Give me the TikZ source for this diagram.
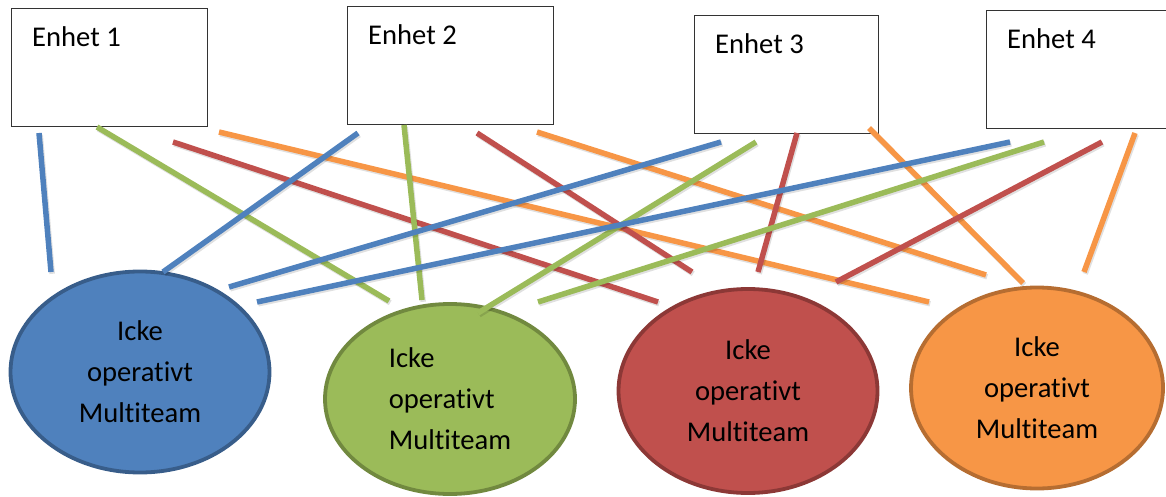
\documentclass[tikz,border=0pt]{standalone}
\usepackage{fontspec}
\setmainfont{Carlito}[Ligatures=NoCommon]
\usepackage{tikz}
\usetikzlibrary{shapes.geometric}

\definecolor{teamblue}{HTML}{4F81BD}
\definecolor{teambluedark}{HTML}{385D8A}
\definecolor{teamgreen}{HTML}{9BBB59}
\definecolor{teamgreendark}{HTML}{71893F}
\definecolor{teamred}{HTML}{C0504D}
\definecolor{teamreddark}{HTML}{8C3836}
\definecolor{teamorange}{HTML}{F79646}
\definecolor{teamorangedark}{HTML}{B66D31}

\newcommand{\bigtext}{\fontsize{28.6}{41}\selectfont}

\begin{document}
\begin{tikzpicture}[x=1pt,y=-1pt,
    enhet/.style={draw=black!80,line width=1.2pt,anchor=north west,
                  minimum height=118pt,inner sep=0pt},
    rubrik/.style={anchor=base west,inner sep=0pt,xshift=21pt,yshift=-39pt,font=\bigtext},
    team/.style={ellipse,line width=3.8pt,inner sep=0pt,align=center,font=\bigtext},
    link/.style={line width=5.5pt,
                 preaction={draw=black,opacity=0.12,line width=5.5pt,
                            transform canvas={shift={(1.2pt,-1.8pt)}}}}]

\useasboundingbox (0,0) rectangle (1166,497);

% enheter
\node[enhet, minimum width=196pt, label={[rubrik]north west:Enhet 1}] (E1) at (11,8) {};
\node[enhet, minimum width=206pt, label={[rubrik]north west:Enhet 2}] (E2) at (347,6) {};
\node[enhet, minimum width=184pt, label={[rubrik]north west:Enhet 3}] (E3) at (694,15) {};
\node[enhet, minimum width=200pt, label={[rubrik]north west:Enhet 4}] (E4) at (986,10) {};

% multiteam
\node[team, fill=teamblue, draw=teambluedark, minimum width=259pt, minimum height=201pt]
    (T1) at (140,372) {Icke\\operativt\\Multiteam};
\node[team, fill=teamgreen, draw=teamgreendark, minimum width=250pt, minimum height=190pt, align=left]
    (T2) at (450,399) {Icke\\operativt\\Multiteam};
\node[team, fill=teamred, draw=teamreddark, minimum width=259pt, minimum height=204pt]
    (T3) at (748,391) {Icke\\operativt\\Multiteam};
\node[team, fill=teamorange, draw=teamorangedark, minimum width=252pt, minimum height=201pt]
    (T4) at (1037,388) {Icke\\operativt\\Multiteam};

% line ends
\coordinate (b1) at (39,133);   \coordinate (b1e) at (51,272);
\coordinate (b2) at (358,133);  \coordinate (b2e) at (163,272);
\coordinate (b3) at (721,142);  \coordinate (b3e) at (229,287);
\coordinate (b4) at (1010,142); \coordinate (b4e) at (257,302);
\coordinate (g1) at (97,127);   \coordinate (g1e) at (389,301);
\coordinate (g2) at (404,125);  \coordinate (g2e) at (422,300);
\coordinate (g3) at (756,142);  \coordinate (g3e) at (478,313);
\coordinate (g4) at (1044,142); \coordinate (g4e) at (538,302);
\coordinate (r1) at (173,142);  \coordinate (r1e) at (658,302);
\coordinate (r2) at (477,133);  \coordinate (r2e) at (692,272);
\coordinate (r3) at (797,133);  \coordinate (r3e) at (758,272);
\coordinate (r4) at (1102,142); \coordinate (r4e) at (836,282);
\coordinate (o1) at (219,132);  \coordinate (o1e) at (929,302);
\coordinate (o2) at (537,132);  \coordinate (o2e) at (986,275);
\coordinate (o3) at (869,128);  \coordinate (o3e) at (1023,283);
\coordinate (o4) at (1135,133); \coordinate (o4e) at (1084,272);

\path (o1) edge[link, teamorange] (o1e)
      (o2) edge[link, teamorange] (o2e)
      (o3) edge[link, teamorange] (o3e)
      (o4) edge[link, teamorange] (o4e);

\path (r1) edge[link, teamred] (r1e)
      (r2) edge[link, teamred] (r2e)
      (r3) edge[link, teamred] (r3e)
      (r4) edge[link, teamred] (r4e);

\path (g1) edge[link, teamgreen] (g1e)
      (g2) edge[link, teamgreen] (g2e)
      (g3) edge[link, teamgreen] (g3e)
      (g4) edge[link, teamgreen] (g4e);

\path (b1) edge[link, teamblue] (b1e)
      (b2) edge[link, teamblue] (b2e)
      (b3) edge[link, teamblue] (b3e)
      (b4) edge[link, teamblue] (b4e);

\end{tikzpicture}
\end{document}
